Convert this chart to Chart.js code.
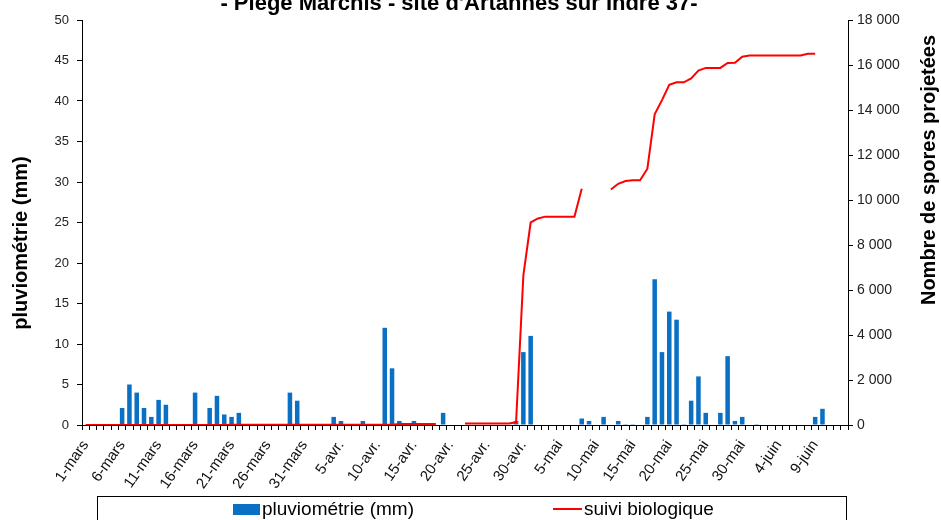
<!DOCTYPE html>
<html>
<head>
<meta charset="utf-8">
<script src="https://cdn.jsdelivr.net/npm/chart.js@4.4.1/dist/chart.umd.min.js"></script>
<style>
  html, body { margin: 0; padding: 0; background: #fff; }
  #wrap { width: 941px; height: 520px; position: relative; }
</style>
</head>
<body>
<div id="wrap"><canvas id="c" width="941" height="520"></canvas></div>
<script>
// ---- Data ----
const title = "- Piège Marchis - site d'Artannes sur Indre 37-";
const leftAxisTitle = "pluviométrie (mm)";
const rightAxisTitle = "Nombre de spores projetées";
const rainLabel = "pluviométrie (mm)";
const sporesLabel = "suivi biologique";

// months and number of days shown (1 mars -> 13 juin)
const monthNames = ["mars", "avr.", "mai", "juin"];
const monthDays = [31, 30, 31, 13];

const categories = [];
monthNames.forEach((m, k) => {
  for (let d = 1; d <= monthDays[k]; d++) categories.push(d + "-" + m);
});

// daily rainfall (mm), 1 mars .. 13 juin
const rainMars = [0,0,0,0,0, 2.1,5,4,2.1,1, 3.1,2.5,0,0,0, 4,0,2.1,3.6,1.3, 1,1.5,0,0,0, 0,0,0,4,3, 0];
const rainAvril = [0,0,0,1,0.5, 0,0,0.5,0,0, 12,7,0.5,0,0.5, 0,0,0,1.5,0, 0,0,0,0,0, 0,0,0,0.5,9];
const rainMai = [11,0,0,0,0, 0,0,0.8,0.5,0, 1,0,0.5,0.1,0.1, 0,1,18,9,14, 13,0.1,3,6,1.5, 0,1.5,8.5,0.5,1, 0];
const rainJuin = [0.1,0,0,0,0, 0,0,0,1,2, 0,0,0];
const rain = [].concat(rainMars, rainAvril, rainMai, rainJuin);

// cumulative spores (suivi biologique), null = no data
const sporesMars = [0,0,0,0,0, 0,0,0,0,0, 0,0,0,0,0, 0,0,0,0,0, 15,15,15,15,15, 15,15,15,15,15, 15];
const sporesAvril = [15,15,15,15,15, 15,15,15,15,15, 15,15,40,40,40, 40,40,40,null,null, null,70,70,70,70, 70,70,70,120,6650];
const sporesMai = [9000,9180,9260,9260,9260, 9260,9260,10500,null,null, null,10470,10720,10840,10880, 10880,11390,13810,14440,15120, 15230,15230,15400,15750,15870, 15870,15870,16090,16100,16370, 16420];
const sporesJuin = [16420,16420,16420,16420,16420, 16420,16420,16500,16500,null, null,null,null];
const spores = [].concat(sporesMars, sporesAvril, sporesMai, sporesJuin);

const leftTicks = { min: 0, max: 50, step: 5 };
const rightTicks = { min: 0, max: 18000, step: 2000 };

const FONT = '"Liberation Sans", Arial, sans-serif';

function fmtThousands(v) {
  return String(v).replace(/\B(?=(\d{3})+(?!\d))/g, ' ');
}

const decor = {
  id: 'decor',
  afterDraw(chart) {
    const ctx = chart.ctx;
    ctx.save();
    ctx.fillStyle = '#000';
    // title
    ctx.font = 'bold 22px ' + FONT;
    ctx.textAlign = 'center';
    ctx.textBaseline = 'alphabetic';
    ctx.fillText(title, 459, 10);
    // left axis title
    ctx.save();
    ctx.translate(21, 243);
    ctx.rotate(-Math.PI / 2);
    ctx.font = 'bold 20px ' + FONT;
    ctx.textBaseline = 'middle';
    ctx.fillText(leftAxisTitle, 0, 0);
    ctx.restore();
    // right axis title
    ctx.save();
    ctx.translate(929, 170);
    ctx.rotate(-Math.PI / 2);
    ctx.font = 'bold 20px ' + FONT;
    ctx.textBaseline = 'middle';
    ctx.fillText(rightAxisTitle, 0, 0);
    ctx.restore();
    // legend box
    ctx.strokeStyle = '#000';
    ctx.lineWidth = 1;
    ctx.strokeRect(97.5, 496.5, 749, 40);
    const ds = chart.data.datasets;
    ctx.fillStyle = ds[1].backgroundColor;
    ctx.fillRect(233, 504, 27, 11);
    ctx.strokeStyle = ds[0].borderColor;
    ctx.lineWidth = 2;
    ctx.beginPath();
    ctx.moveTo(553, 509);
    ctx.lineTo(582, 509);
    ctx.stroke();
    ctx.fillStyle = '#000';
    ctx.font = '19px ' + FONT;
    ctx.textAlign = 'left';
    ctx.textBaseline = 'middle';
    ctx.fillText(ds[1].label, 262, 510);
    ctx.fillText(ds[0].label, 584, 510);
    ctx.restore();
  }
};

new Chart(document.getElementById('c'), {
  data: {
    labels: categories,
    datasets: [
      {
        type: 'line',
        label: sporesLabel,
        data: spores,
        yAxisID: 'y1',
        borderColor: '#ff0000',
        backgroundColor: '#ff0000',
        borderWidth: 2,
        pointRadius: 0,
        tension: 0,
        spanGaps: false,
        order: 0
      },
      {
        type: 'bar',
        label: rainLabel,
        data: rain,
        yAxisID: 'y',
        backgroundColor: '#0a70c4',
        categoryPercentage: 1,
        barPercentage: 0.62,
        order: 1
      }
    ]
  },
  plugins: [decor],
  options: {
    responsive: false,
    animation: false,
    layout: { padding: { left: 0, right: 0, top: 20, bottom: 0 } },
    plugins: { legend: { display: false }, tooltip: { enabled: false }, title: { display: false } },
    scales: {
      x: {
        type: 'category',
        offset: true,
        afterFit(s) { s.height = 95; },
        grid: { offset: true, drawOnChartArea: false, drawTicks: true, tickLength: 5, color: '#000' },
        border: { color: '#000', width: 1 },
        ticks: {
          autoSkip: false,
          minRotation: 55,
          maxRotation: 55,
          padding: 7,
          color: '#111',
          font: { family: FONT, size: 15 },
          callback(v, i) { return i % 5 === 0 ? categories[i] : ''; }
        }
      },
      y: {
        position: 'left',
        min: leftTicks.min,
        max: leftTicks.max,
        afterFit(s) { s.width = 82; },
        grid: { drawOnChartArea: false, drawTicks: true, tickLength: 5, color: '#000' },
        border: { color: '#000', width: 1 },
        ticks: { stepSize: leftTicks.step, padding: 8, color: '#222', font: { family: FONT, size: 13 } }
      },
      y1: {
        position: 'right',
        min: rightTicks.min,
        max: rightTicks.max,
        afterFit(s) { s.width = 93; },
        grid: { drawOnChartArea: false, drawTicks: true, tickLength: 5, color: '#000' },
        border: { color: '#000', width: 1 },
        ticks: { stepSize: rightTicks.step, padding: 4, color: '#222', font: { family: FONT, size: 14 },
                 callback(v) { return fmtThousands(v); } }
      }
    }
  }
});
</script>
</body>
</html>
